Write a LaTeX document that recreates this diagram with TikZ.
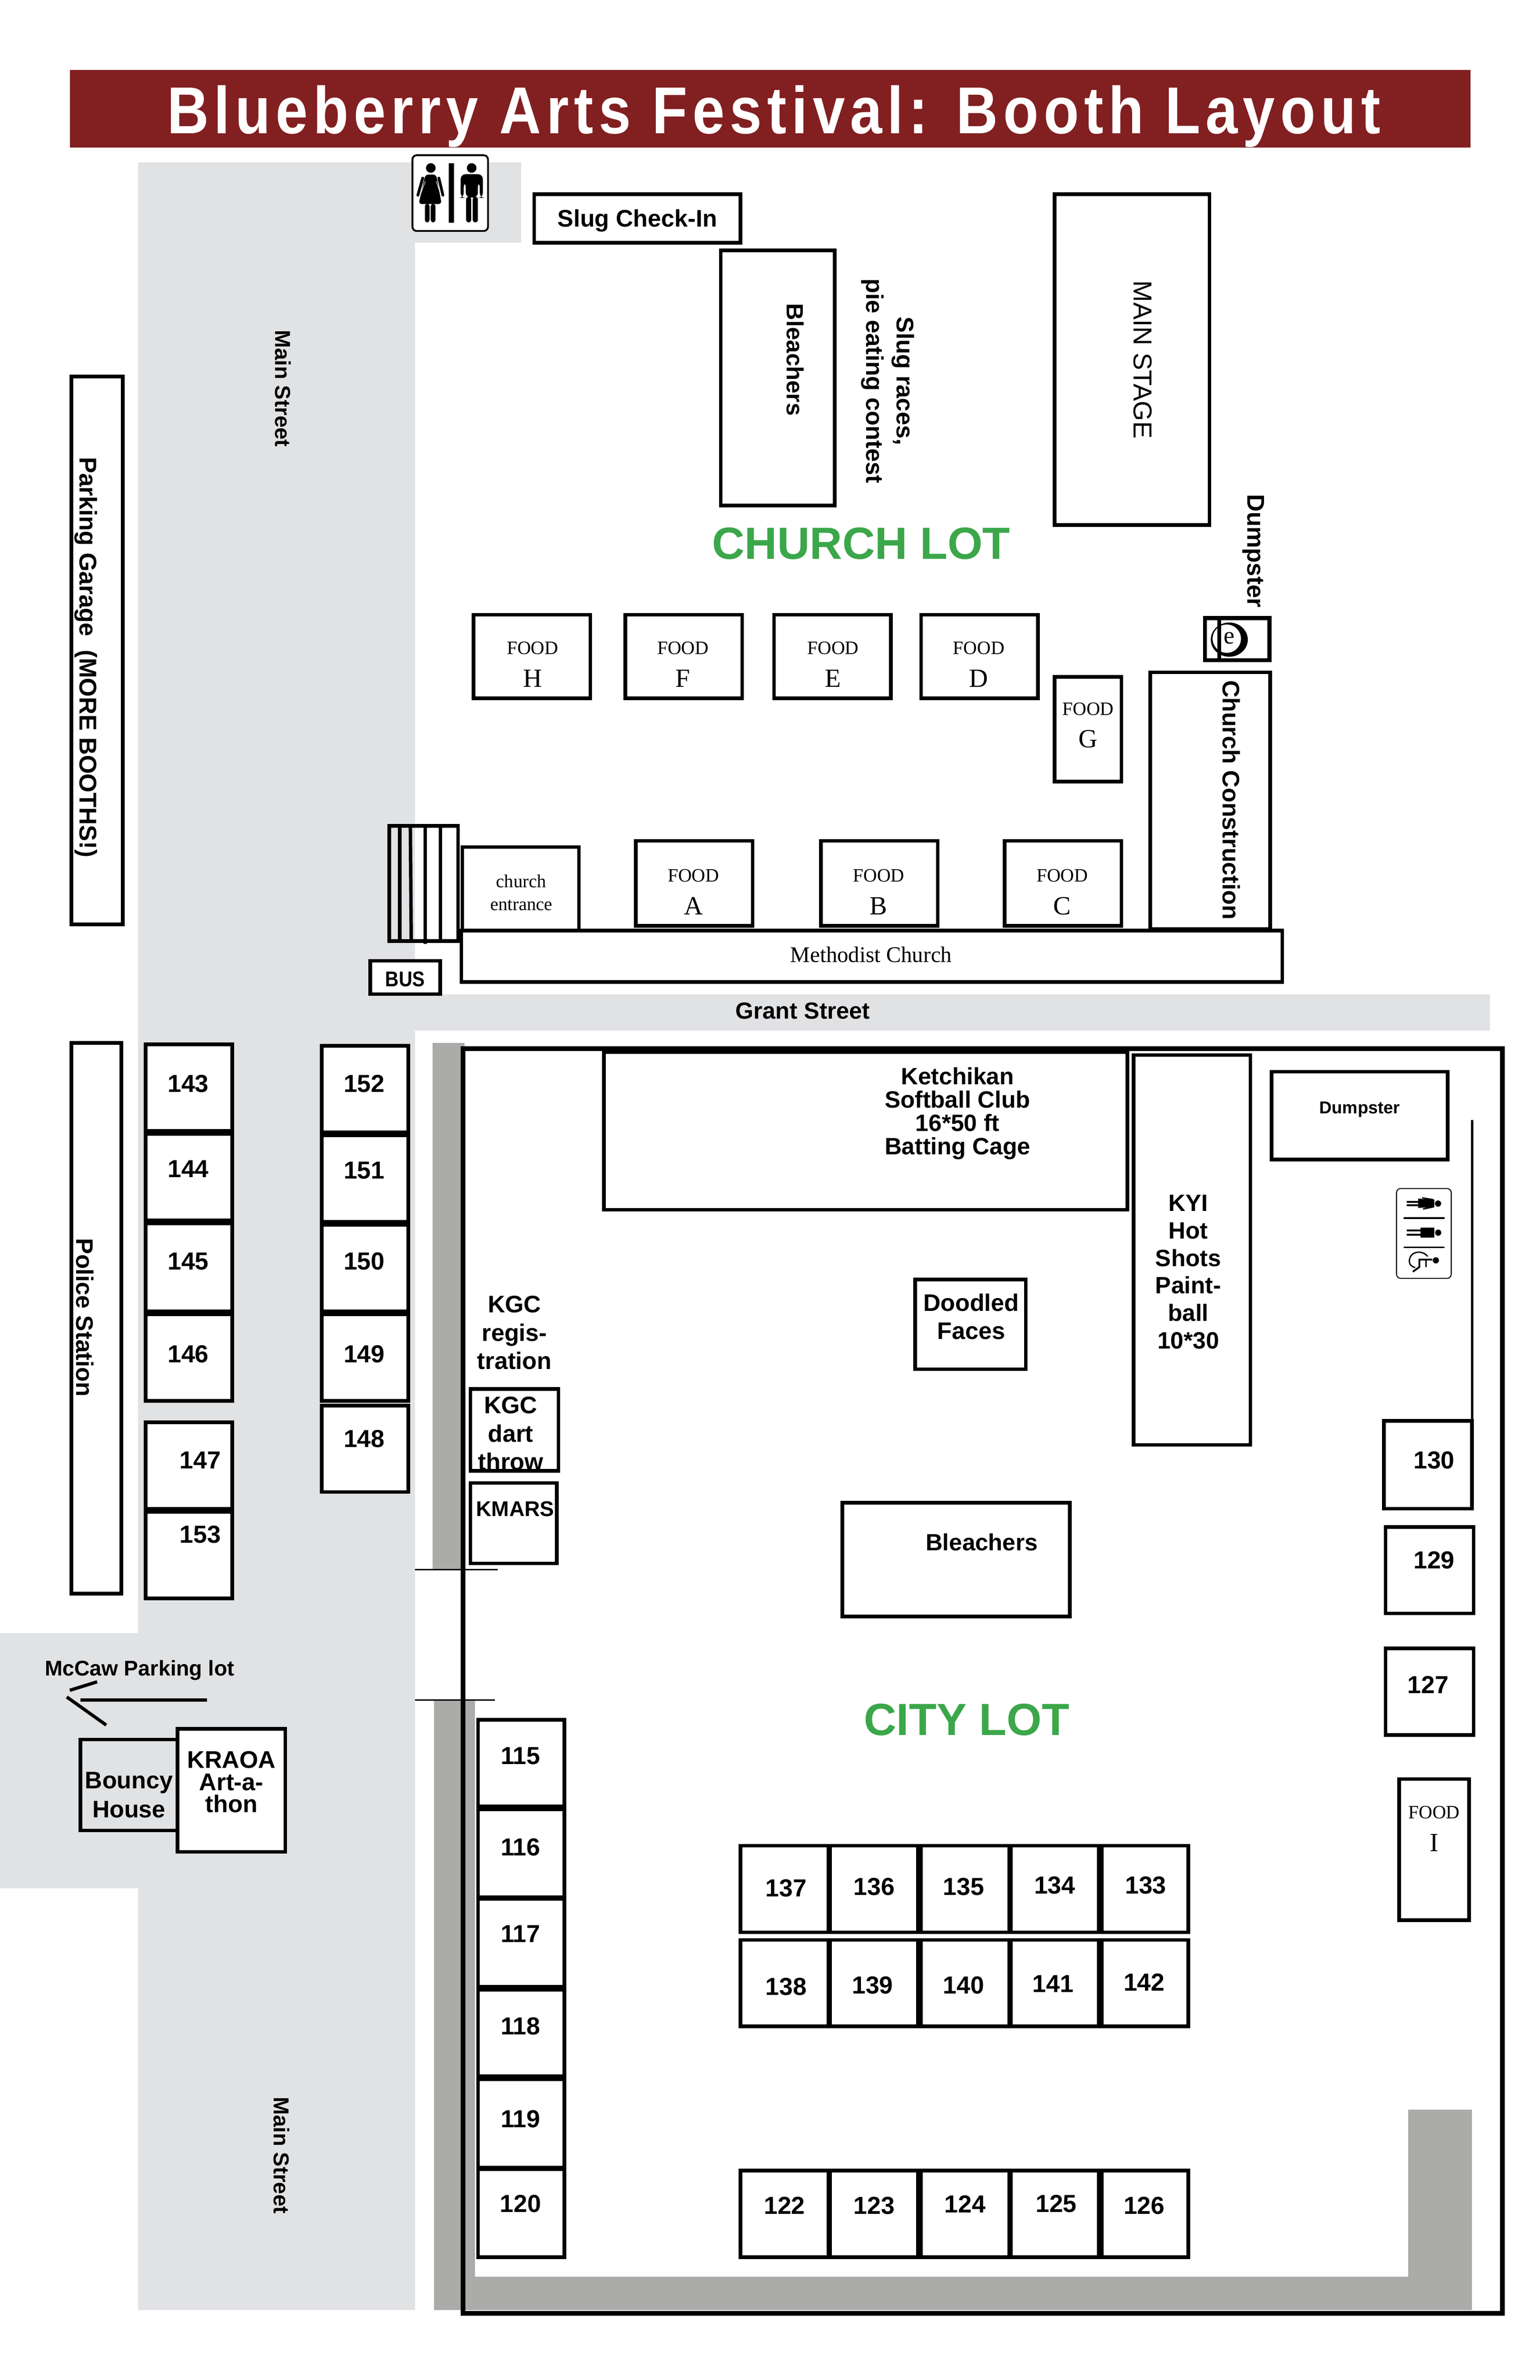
\documentclass[tikz,border=0pt]{standalone}
\usepackage{fontspec}
\newfontfamily\ar{Liberation Sans}
\newfontfamily\ti{Liberation Serif}
\newfontfamily\ttl[LetterSpace=9]{Liberation Sans}
\definecolor{road}{HTML}{E1E2E4}
\definecolor{walk}{HTML}{ABABAA}
\definecolor{banner}{HTML}{821F21}
\definecolor{lotgreen}{HTML}{3BA74A}
\newcounter{tc}
\tikzset{
 box/.style={draw=black,line width=2.2pt,inner sep=0pt,rectangle},
 lab/.style={inner sep=0pt,align=center,text=black},
 fz/.style n args={2}{font=\ar\bfseries\fontsize{#1}{#2}\selectfont},
 rg/.style n args={2}{font=\ar\fontsize{#1}{#2}\selectfont},
 sz/.style n args={2}{font=\ti\fontsize{#1}{#2}\selectfont},
 num/.style={fz={15}{18}},
 lot/.style={text=lotgreen,font=\ar\bfseries\fontsize{27.5}{32}\selectfont},
 vline/.style={line width=2.1pt,black},
 thin/.style={line width=.8pt,black}
}
\newcommand\bx[6][]{\pgfmathsetlengthmacro\bw{(#5-#3)*0.92546pt}\pgfmathsetlengthmacro\bh{(#6-#4)*0.92546pt}\pgfmathsetmacro\cx{(#3+#5)/2}\pgfmathsetmacro\cy{(#4+#6)/2}\node[box,minimum width=\bw,minimum height=\bh,#1] (#2) at (\cx,\cy) {};}
\newcommand\tx[4][]{\stepcounter{tc}\node[lab,#1] (t\thetc) at (#2,#3) {#4};}
\newcommand\booth[7]{\bx[fill=white]{b#1}{#2}{#3}{#4}{#5}\tx[num]{#6}{#7}{#1}}
\newcommand\food[7]{\bx[fill=white]{food#1}{#2}{#3}{#4}{#5}\tx[sz={11.5}{14}]{#6}{#7}{FOOD}\tx[sz={16}{18}]{#6}{\fpeval{#7+20}}{#1}}
\begin{document}
\begin{tikzpicture}[x=0.032526cm,y=-0.032526cm]
\useasboundingbox (0,0) rectangle (1014.6,1568);
\fill[white] (0,0) rectangle (1014.6,1568);
% roads
\fill[road] (91,107) rectangle (273.6,1522);
\fill[road] (91,107) rectangle (343.5,160);
\fill[road] (273.6,655) rectangle (982,679);
\fill[road] (0,1076) rectangle (273.6,1244);
% sidewalks
\fill[walk] (285,687) rectangle (306,1034);
\fill[walk] (286,1120) rectangle (313,1522);
\fill[walk] (286,1500) rectangle (970,1522);
\fill[walk] (928,1390) rectangle (970,1522);
% banner
\node[fill=banner,minimum width=854.2pt,minimum height=47.2pt,inner sep=0pt] (banner) at (507.5,71.6) {};
\tx[text=white,anchor=base,font=\ttl\bfseries\fontsize{40.5}{44}\selectfont]{510}{88}{\scalebox{.87}[1]{Blueberry Arts Festival: Booth Layout}}
% restroom sign
\begin{scope}[shift={(239.8,86.08)},scale=.10248]
\draw[black,line width=1.1pt,fill=white,rounded corners=2.6pt] (312,158) rectangle (798,645);
\fill (430,240) circle (31);
\fill (693,240) circle (31);
\fill[rounded corners=2pt] (395,282) -- (465,282) -- (500,472) -- (352,472) -- cycle;
\draw[line width=1.7pt,line cap=round] (378,305) -- (347,415);
\draw[line width=1.7pt,line cap=round] (482,305) -- (508,415);
\draw[white,line width=.3pt] (395,325) -- (360,420);
\draw[white,line width=.3pt] (465,325) -- (497,420);
\fill[rounded corners=1.5pt] (392,470) rectangle (422,590);
\fill[rounded corners=1.5pt] (430,470) rectangle (460,590);
\fill (547,210) rectangle (578,593);
\fill[rounded corners=3pt] (622,280) -- (765,280) -- (765,432) -- (745,432) -- (745,330) -- (733,330) -- (733,430) -- (655,430) -- (655,330) -- (642,330) -- (642,432) -- (622,432) -- cycle;
\fill[rounded corners=1.5pt] (657,425) rectangle (690,590);
\fill[rounded corners=1.5pt] (700,425) rectangle (733,590);
\end{scope}
% church lot
\bx[fill=white]{slug}{352}{128}{488}{160}
\tx[fz={14.6}{17}]{420}{145.5}{Slug Check-In}
\bx{bleachA}{475}{165}{550}{333}
\tx[fz={14.3}{16},rotate=-90]{524}{237}{Bleachers}
\tx[fz={14.7}{18.5},rotate=-90]{585}{251}{Slug races,\\pie eating contest}
\bx{stage}{695}{128}{797}{346}
\tx[rg={15.8}{18},rotate=-90]{753}{237}{MAIN STAGE}
\tx[lot]{567.5}{358}{CHURCH LOT}
\tx[fz={14.8}{17},rotate=-90]{826}{363}{Dumpster}
\food{H}{312}{405}{389}{460}{351}{427}
\food{F}{412}{405}{489}{460}{450}{427}
\food{E}{510}{405}{587}{460}{549}{427}
\food{D}{607}{405}{684}{460}{645}{427}
\food{G}{695}{446}{739}{515}{717}{467}
\bx{construction}{758}{443}{837}{612}
\tx[fz={14.6}{17},rotate=-90]{811.5}{527}{Church Construction}
% church dumpster symbol
\bx[line width=2.4pt]{dumpA}{794}{407.2}{836.5}{435}
\begin{scope}[shift={(762.5,384.3)},scale=.10248]
\fill (464,362) ellipse (119 and 110);
\fill[white] (448,356) circle (91);
\fill (387,235) rectangle (412,500);
\node[lab,sz={15}{18}] (dumpe) at (463,352) {e};
\end{scope}
% stairs
\bx{stairs}{256.5}{544}{301.8}{620}
\coordinate (s1a) at (263.4,544); \coordinate (s1b) at (263.4,620);
\coordinate (s2a) at (270.4,543); \coordinate (s2b) at (271,620);
\coordinate (s3a) at (280.3,544); \coordinate (s3b) at (280.3,622);
\coordinate (s4a) at (290.2,543); \coordinate (s4b) at (290.2,620);
\draw[vline] (s1a) -- (s1b); \draw[vline] (s2a) -- (s2b); \draw[vline] (s3a) -- (s3b); \draw[vline] (s4a) -- (s4b);
\bx[fill=white]{entrance}{304.6}{558}{381.5}{613}
\tx[sz={11.2}{14}]{343.5}{588}{church\\entrance}
\food{A}{419}{554}{496}{610}{457}{577}
\food{B}{541}{554}{618}{610}{579}{577}
\food{C}{662}{554}{739}{610}{700}{577}
\bx{methodist}{304}{613}{845}{647}
\tx[sz={13.6}{16}]{574}{629}{Methodist Church}
\bx[fill=white]{busbox}{244}{633}{290}{655}
\tx[fz={13}{15}]{267}{645}{\scalebox{.88}[1]{BUS}}
\tx[fz={14.2}{16}]{529}{666}{Grant Street}
\tx[fz={13.2}{15},rotate=-90]{186.5}{256}{Main Street}
\tx[fz={13.2}{15},rotate=-90]{185.5}{1420}{Main Street}
\bx[fill=white]{garage}{47}{248}{81}{609}
\tx[fz={14.8}{17},rotate=-90]{56.5}{433}{Parking Garage\ \ (MORE BOOTHS!)}
\bx[fill=white]{police}{47}{687}{80}{1050}
\tx[fz={14.6}{17},rotate=-90]{56}{868}{Police Station}
% city lot frame
\draw[line width=2.9pt,black] (305,691) -- (990,691) -- (990,1524) -- (305,1524) -- cycle;
\coordinate (la) at (273.6,1034); \coordinate (lb) at (328,1034);
\coordinate (lc) at (273.6,1120); \coordinate (ld) at (326,1120);
\draw[thin] (la) -- (lb); \draw[thin] (lc) -- (ld);
\coordinate (ra) at (970,738); \coordinate (rb) at (970,977);
\draw[line width=1.4pt,black] (ra) -- (rb);
\bx{softball}{398}{693}{743}{797}
\tx[fz={14.4}{14.2}]{631}{733.5}{Ketchikan\\Softball Club\\16*50 ft\\Batting Cage}
\bx{kyi}{747}{695}{824}{952}
\tx[fz={14.4}{16.8}]{783}{838}{KYI\\Hot\\Shots\\Paint-\\ball\\10*30}
\bx{dumpB}{838}{706}{954}{764}
\tx[fz={10.5}{12}]{896}{731}{Dumpster}
% accessible sign
\begin{scope}[shift={(885.4,762.5)},scale=.10248]
\draw[black,line width=.6pt,fill=white,rounded corners=2.6pt] (340,200) rectangle (692,778);
\fill (607,297) circle (20);
\fill (480,265) -- (583,272) -- (583,320) -- (480,325) -- cycle;
\draw[line width=.8pt] (505,260) -- (578,272);
\draw[line width=.8pt] (510,332) -- (580,318);
\fill (405,280) rectangle (482,293);
\fill (405,300) rectangle (482,313);
\fill (608,484) circle (20);
\fill (495,452) rectangle (582,516);
\fill (405,464) rectangle (495,476);
\fill (405,490) rectangle (495,503);
\draw[line width=1pt,line cap=round] (390,390) -- (645,390);
\draw[line width=1pt,line cap=round] (390,578) -- (645,578);
\fill (593,662) circle (20);
\draw[line width=.8pt] (540,637) .. controls (510,595) and (430,600) .. (423,660) .. controls (420,690) and (440,705) .. (460,708);
\draw[line width=1.1pt] (570,657) -- (487,657) -- (487,705) -- (445,735);
\draw[line width=.9pt] (530,657) -- (530,705);
\end{scope}
\bx{doodled}{603}{843}{676}{902}
\tx[fz={14.6}{17.2}]{640}{867.5}{Doodled\\Faces}
\tx[fz={14.6}{17.2}]{339}{878}{KGC\\regis-\\tration}
\tx[fz={14.6}{17.2}]{336.5}{944.5}{KGC\\dart\\throw}
\bx{dart}{310}{915}{368}{969}
\bx{kmars}{310}{977}{367}{1030}
\tx[fz={13}{15}]{339.5}{994}{KMARS}
\booth{143}{96}{688}{153}{745}{124}{714}
\booth{144}{96}{747}{153}{804}{124}{770}
\booth{145}{96}{806}{153}{864}{124}{831}
\booth{146}{96}{866}{153}{923}{124}{892}
\booth{147}{96}{937}{153}{994}{132}{962}
\booth{153}{96}{996}{153}{1053}{132}{1011}
\booth{152}{212}{689}{269}{746}{240}{714}
\booth{151}{212}{748}{269}{805}{240}{771}
\booth{150}{212}{807}{269}{864}{240}{831}
\booth{149}{212}{866}{269}{923}{240}{892}
\booth{148}{212}{926}{269}{983}{240}{948}
% McCaw
\tx[fz={13}{15}]{92}{1100.5}{McCaw Parking lot}
\coordinate (a1) at (136.5,1120); \coordinate (a2) at (53,1120);
\coordinate (a3) at (46,1113.6); \coordinate (a4) at (64,1108);
\coordinate (a5) at (44,1118); \coordinate (a6) at (70,1136.5);
\draw[line width=2pt,black] (a1) -- (a2);
\draw[line width=2pt,black] (a3) -- (a4);
\draw[line width=2pt,black] (a5) -- (a6);
\bx{bouncy}{53}{1146}{117}{1206}
\tx[fz={14.6}{17.6}]{85}{1182.5}{Bouncy\\House}
\bx[fill=white]{kraoa}{117}{1139}{188}{1220}
\tx[fz={14.7}{13.5}]{152.5}{1174}{KRAOA\\Art-a-\\thon}
% left booths city lot
\booth{115}{315}{1133}{372}{1190}{343}{1157}
\booth{116}{315}{1192}{372}{1250}{343}{1217}
\booth{117}{315}{1251}{372}{1309}{343}{1274}
\booth{118}{315}{1311}{372}{1368}{343}{1335}
\booth{119}{315}{1370}{372}{1428}{343}{1396}
\booth{120}{315}{1429}{372}{1487}{343}{1452}
% rows
\booth{137}{488}{1216}{546}{1273}{518}{1244}
\booth{136}{547}{1216}{605}{1273}{576}{1243}
\booth{135}{607}{1216}{665}{1273}{635}{1243}
\booth{134}{666}{1216}{724}{1273}{695}{1242}
\booth{133}{726}{1216}{783}{1273}{755}{1242}
\booth{138}{488}{1278}{546}{1335}{518}{1309}
\booth{139}{547}{1278}{605}{1335}{575}{1308}
\booth{140}{607}{1278}{665}{1335}{635}{1308}
\booth{141}{666}{1278}{724}{1335}{694}{1307}
\booth{142}{726}{1278}{783}{1335}{754}{1306}
\booth{122}{488}{1430}{546}{1487}{517}{1453}
\booth{123}{547}{1430}{605}{1487}{576}{1453}
\booth{124}{607}{1430}{665}{1487}{636}{1452}
\booth{125}{666}{1430}{724}{1487}{696}{1452}
\booth{126}{726}{1430}{783}{1487}{754}{1453}
\booth{130}{912}{936}{970}{994}{945}{962}
\booth{129}{913}{1006}{971}{1063}{945}{1028}
\booth{127}{913}{1086}{971}{1143}{941}{1110}
\bx[fill=white]{foodI}{922}{1172}{968}{1265}
\tx[sz={11.5}{14}]{945}{1194}{FOOD}
\tx[sz={16}{18}]{945}{1214}{I}
\bx{bleachB}{555}{990}{705}{1065}
\tx[fz={14.3}{16}]{647}{1016}{Bleachers}
\tx[lot]{637}{1133}{CITY LOT}
\end{tikzpicture}
\end{document}
